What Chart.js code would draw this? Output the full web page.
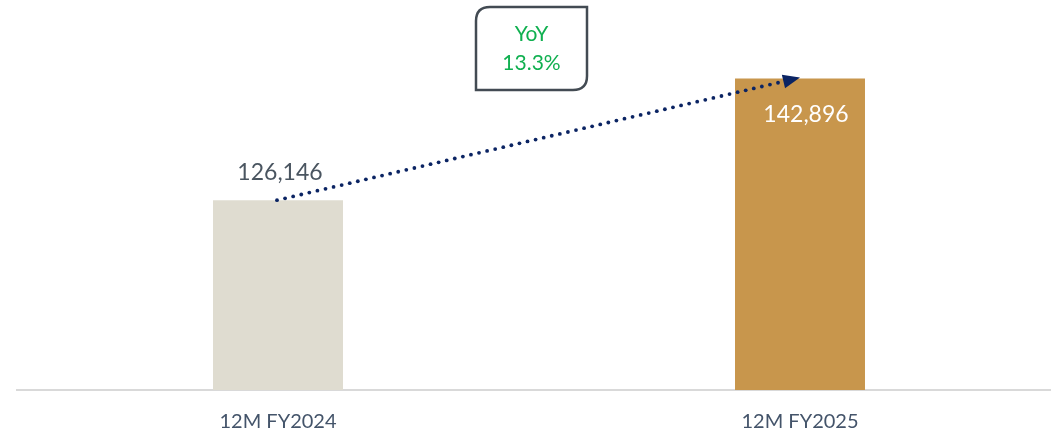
<!DOCTYPE html>
<html>
<head>
<meta charset="utf-8">
<script src="https://cdn.jsdelivr.net/npm/chart.js@4.4.1/dist/chart.umd.min.js"></script>
<style>
  html, body { margin: 0; padding: 0; background: #fff; overflow: hidden; }
  #wrap { position: relative; width: 1070px; height: 456px; }
</style>
</head>
<body>
<div id="wrap"><canvas id="rev"></canvas></div>
<script>
var periods = ['12M FY2024', '12M FY2025'];
var revenue = [126146, 142896];
var barColors = ['#dfdcd0', '#c8964c'];
var yoyTitle = 'YoY';

function fmt(n){
  return n.toLocaleString('en-US');
}

// value labels, dotted growth arrow and the YoY callout
var overlay = {
  id: 'overlay',
  afterDatasetsDraw: function(chart){
    var ctx = chart.ctx;
    var meta = chart.getDatasetMeta(0);
    var b0 = meta.data[0], b1 = meta.data[1];

    ctx.save();
    ctx.font = '23px Lato, "Open Sans", sans-serif';
    ctx.textAlign = 'center';
    ctx.textBaseline = 'middle';
    ctx.fillStyle = '#4a5560';
    ctx.fillText(fmt(revenue[0]), b0.x + 2, b0.y - 28);
    ctx.fillStyle = '#ffffff';
    ctx.fillText(fmt(revenue[1]), b1.x + 6, b1.y + 36);

    // dotted arrow between the two bar tops
    var x0 = b0.x - 1, y0 = b0.y, x1 = b1.x, y1 = b1.y - 1;
    var ang = Math.atan2(y1 - y0, x1 - x0);
    var len = Math.hypot(x1 - x0, y1 - y0) - 14;
    ctx.fillStyle = '#0b2463';
    for (var d = 0; d <= len; d += 8.3) {
      ctx.beginPath();
      ctx.arc(x0 + Math.cos(ang) * d, y0 + Math.sin(ang) * d, 1.9, 0, Math.PI * 2);
      ctx.fill();
    }
    ctx.translate(x1, y1);
    ctx.rotate(ang);
    ctx.beginPath();
    ctx.moveTo(0, 0);
    ctx.lineTo(-17, -7);
    ctx.lineTo(-17, 7);
    ctx.closePath();
    ctx.fill();
    ctx.restore();

    // YoY box, rounded on two opposite corners
    var bx = 476, by = 7, bw = 111, bh = 83, r = 14;
    ctx.save();
    ctx.beginPath();
    ctx.moveTo(bx + r, by);
    ctx.lineTo(bx + bw, by);
    ctx.lineTo(bx + bw, by + bh - r);
    ctx.quadraticCurveTo(bx + bw, by + bh, bx + bw - r, by + bh);
    ctx.lineTo(bx, by + bh);
    ctx.lineTo(bx, by + r);
    ctx.quadraticCurveTo(bx, by, bx + r, by);
    ctx.closePath();
    ctx.fillStyle = '#ffffff';
    ctx.fill();
    ctx.lineWidth = 2.5;
    ctx.strokeStyle = '#434b53';
    ctx.stroke();
    var yoy = (revenue[1] / revenue[0] - 1) * 100;
    ctx.fillStyle = '#10b050';
    ctx.font = '21px Lato, "Open Sans", sans-serif';
    ctx.textAlign = 'center';
    ctx.textBaseline = 'middle';
    ctx.fillText(yoyTitle, bx + bw / 2, by + 27);
    ctx.fillText(yoy.toFixed(1) + '%', bx + bw / 2, by + 56);
    ctx.restore();
  }
};

new Chart(document.getElementById('rev'), {
  type: 'bar',
  data: {
    labels: periods,
    datasets: [{
      data: revenue,
      backgroundColor: barColors,
      barPercentage: 0.249,
      categoryPercentage: 1
    }]
  },
  options: {
    responsive: true,
    maintainAspectRatio: false,
    animation: false,
    layout: { padding: { left: 17, right: 9, top: 27, bottom: 2 } },
    plugins: { legend: { display: false }, tooltip: { enabled: false } },
    scales: {
      x: {
        grid: { display: false, drawTicks: false },
        border: { display: true, color: '#d9d9d9', width: 2 },
        ticks: {
          color: '#44546a',
          padding: 20,
          font: { family: 'Lato, "Open Sans", sans-serif', size: 20 }
        }
      },
      y: { display: false, min: 100000, max: 150000 }
    }
  },
  plugins: [overlay]
});
</script>
</body>
</html>
